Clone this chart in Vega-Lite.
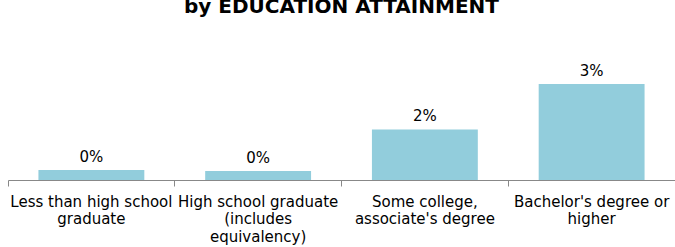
{
  "$schema": "https://vega.github.io/schema/vega-lite/v6.json",
  "autosize": {"type": "none"},
  "width": 667,
  "height": 160,
  "padding": {"left": 8, "top": 20, "right": 0, "bottom": 67},
  "background": "white",
  "title": {
    "text": "by EDUCATION ATTAINMENT",
    "font": "DejaVu Sans",
    "fontSize": 20,
    "fontWeight": "bold",
    "color": "#000000",
    "anchor": "middle",
    "baseline": "alphabetic",
    "offset": -13
  },
  "data": {
    "values": [
      {"education": "Less than high school graduate", "rate": 0.0031},
      {"education": "High school graduate (includes equivalency)", "rate": 0.0028},
      {"education": "Some college, associate's degree", "rate": 0.0158},
      {"education": "Bachelor's degree or higher", "rate": 0.0300}
    ]
  },
  "encoding": {
    "x": {
      "field": "education",
      "type": "nominal",
      "sort": null,
      "scale": {"paddingInner": 0, "paddingOuter": 0},
      "axis": {
        "title": null,
        "labelAngle": 0,
        "labelFont": "DejaVu Sans",
        "labelFontSize": 15,
        "labelColor": "#000000",
        "labelLineHeight": 17.5,
        "labelPadding": 8,
        "labelLimit": 200,
        "labelBaseline": "top",
        "domainColor": "#888888",
        "tickColor": "#888888",
        "tickSize": 6,
        "bandPosition": 0,
        "labelExpr": "datum.value == 'Less than high school graduate' ? ['Less than high school', 'graduate'] : datum.value == 'High school graduate (includes equivalency)' ? ['High school graduate', '(includes', 'equivalency)'] : datum.value == 'Some college, associate\\'s degree' ? ['Some college,', 'associate\\'s degree'] : ['Bachelor\\'s degree or', 'higher']"
      }
    },
    "y": {
      "field": "rate",
      "type": "quantitative",
      "scale": {"domain": [0, 0.05]},
      "axis": null
    }
  },
  "layer": [
    {"mark": {"type": "bar", "color": "#92cddc", "width": {"band": 0.635}}},
    {
      "mark": {"type": "text", "baseline": "bottom", "dy": -5, "font": "DejaVu Sans", "fontSize": 15, "color": "#000000"},
      "encoding": {"text": {"field": "rate", "type": "quantitative", "format": ".0%"}}
    }
  ],
  "config": {"view": {"stroke": null}, "axis": {"grid": false}}
}
